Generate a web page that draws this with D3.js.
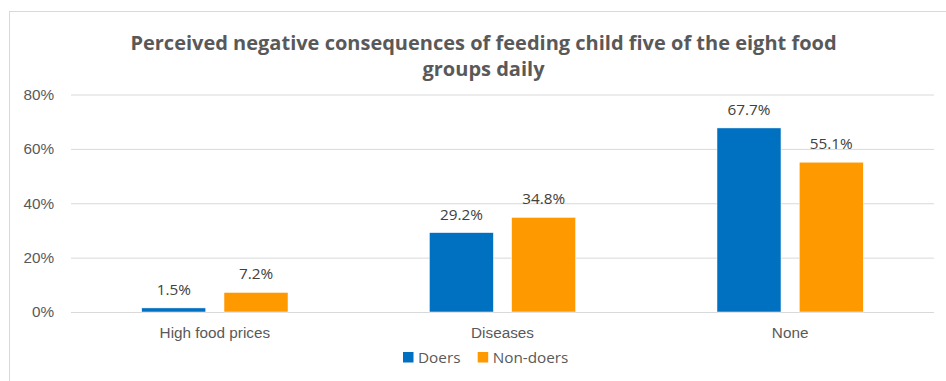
<!DOCTYPE html>
<html><head><meta charset="utf-8">
<script src="https://cdn.jsdelivr.net/npm/d3@7"></script>
<style>
html,body{margin:0;padding:0;background:#fff;}
svg{display:block;font-family:"Open Sans","Noto Sans","Liberation Sans",sans-serif;}
</style></head>
<body>
<svg id="chart" width="946" height="381"></svg>
<script>
const titleLines = ["Perceived negative consequences of feeding child five of the eight food", "groups daily"];
const categories = ["High food prices", "Diseases", "None"];
const seriesNames = ["Doers", "Non-doers"];
const doers = [1.5, 29.2, 67.7];
const nonDoers = [7.2, 34.8, 55.1];
const yTicks = [0, 20, 40, 60, 80];
const colors = ["#0070C0", "#FF9900"];

const svg = d3.select("#chart");
const W = 946, H = 381;
const margin = {left: 71, right: 12};
const plotW = W - margin.left - margin.right;
const plotTop = 94.5, plotBottom = 312;
const FS = "15.3px";

// chart frame (extends past right and bottom edge)
svg.append("rect").attr("x", 9.5).attr("y", 11.5).attr("width", 1000).attr("height", 500)
  .attr("fill", "#fff").attr("stroke", "#D9D9D9").attr("stroke-width", 1);

const y = d3.scaleLinear().domain([0, 80]).range([plotBottom, plotTop]);
const x0 = d3.scaleBand().domain(categories).range([margin.left, margin.left + plotW])
  .paddingInner(0.4915).paddingOuter(0.246);
const x1 = d3.scaleBand().domain(seriesNames).range([0, x0.bandwidth()]).paddingInner(0.222).paddingOuter(0);

// gridlines + y labels
const yAxis = d3.axisLeft(y).tickValues(yTicks).tickFormat(d => d + "%").tickSize(-plotW).tickPadding(17);
const gy = svg.append("g").attr("transform", `translate(${margin.left},0)`).call(yAxis);
gy.select(".domain").remove();
gy.selectAll(".tick line").attr("stroke", "#D9D9D9").attr("stroke-width", 1);
gy.selectAll(".tick text").attr("fill", "#595959").style("font-size", FS).style("font-family", null);

// bars
const data = categories.map((c, i) => ({cat: c, vals: [
  {s: seriesNames[0], v: doers[i], c: colors[0]},
  {s: seriesNames[1], v: nonDoers[i], c: colors[1]}]}));

const groups = svg.append("g").selectAll("g").data(data).join("g")
  .attr("transform", d => `translate(${x0(d.cat)},0)`);
groups.selectAll("rect").data(d => d.vals).join("rect")
  .attr("x", d => x1(d.s)).attr("width", x1.bandwidth())
  .attr("y", d => y(d.v)).attr("height", d => y(0) - y(d.v))
  .attr("fill", d => d.c).attr("stroke", "#fff").attr("stroke-width", 0.5);
groups.selectAll("text").data(d => d.vals).join("text")
  .attr("x", d => x1(d.s) + x1.bandwidth() / 2).attr("y", d => y(d.v) - 13)
  .attr("text-anchor", "middle").attr("fill", "#404040").style("font-size", FS)
  .text(d => d.v.toFixed(1) + "%");

// x axis category labels
const xAxis = d3.axisBottom(x0).tickSize(0).tickPadding(15);
const gx = svg.append("g").attr("transform", `translate(0,${plotBottom})`).call(xAxis);
gx.select(".domain").remove();
gx.selectAll(".tick text").attr("fill", "#595959").style("font-size", FS).style("font-family", null);

// title
const title = svg.append("text").attr("text-anchor", "middle").attr("fill", "#595959")
  .style("font-size", "20px").style("font-weight", "bold");
titleLines.forEach((t, i) => title.append("tspan").attr("x", 483.5).attr("y", 49.5 + i * 26.3).text(t));

// legend
const legend = svg.append("g");
const legX = [403, 477.7];
seriesNames.forEach((s, i) => {
  legend.append("rect").attr("x", legX[i]).attr("y", 352).attr("width", 10.5).attr("height", 10.5).attr("fill", colors[i]);
  legend.append("text").attr("x", legX[i] + 15).attr("y", 362.5).attr("fill", "#595959")
    .style("font-size", FS).text(s);
});
</script>
</body></html>
